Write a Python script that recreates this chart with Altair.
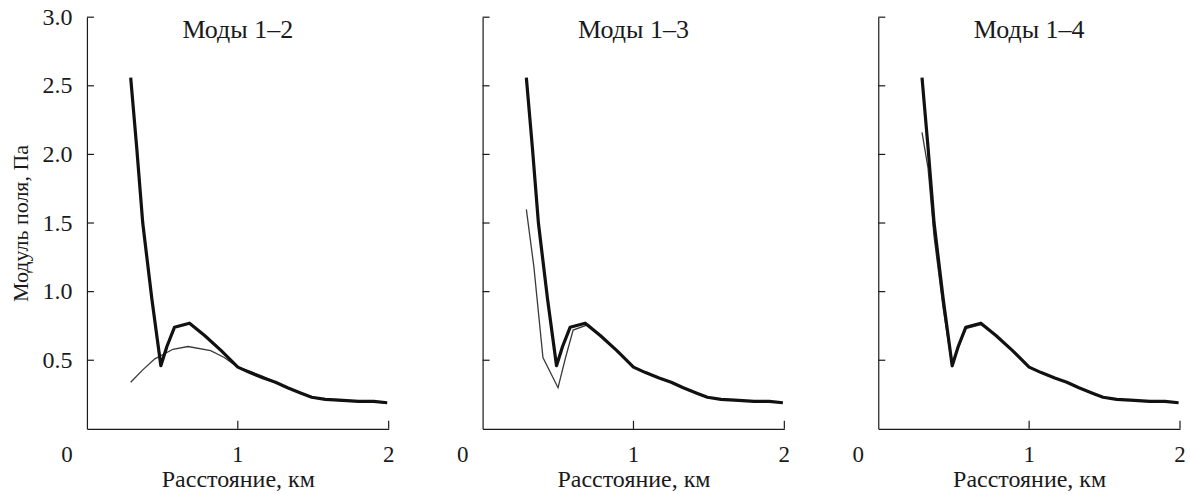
import altair as alt
import pandas as pd

# Exact field (thick curve), same in all three panels
exact_x = [0.29, 0.33, 0.37, 0.43, 0.49, 0.53, 0.58, 0.68, 0.78, 0.89, 1.0, 1.08, 1.17,
           1.25, 1.33, 1.42, 1.49, 1.58, 1.67, 1.8, 1.9, 1.99]
exact_y = [2.56, 2.05, 1.50, 0.95, 0.46, 0.60, 0.74, 0.77, 0.68, 0.57, 0.45, 0.41, 0.37,
           0.34, 0.30, 0.26, 0.23, 0.215, 0.21, 0.20, 0.20, 0.19]

# Mode sums (thin curves)
m12_x = [0.29, 0.37, 0.45, 0.57, 0.67, 0.82, 0.91, 1.0, 1.08, 1.17, 1.25, 1.33, 1.42,
         1.49, 1.58, 1.67, 1.8, 1.9, 1.99]
m12_y = [0.34, 0.43, 0.51, 0.58, 0.60, 0.57, 0.52, 0.45, 0.42, 0.38, 0.34, 0.30, 0.26,
         0.23, 0.215, 0.205, 0.20, 0.195, 0.19]

m13_x = [0.29, 0.34, 0.40, 0.50, 0.55, 0.60, 0.70, 0.78, 0.89, 1.0, 1.08, 1.17, 1.25,
         1.33, 1.42, 1.49, 1.58, 1.67, 1.8, 1.9, 1.99]
m13_y = [1.60, 1.18, 0.52, 0.30, 0.52, 0.72, 0.76, 0.68, 0.57, 0.45, 0.41, 0.37, 0.34,
         0.30, 0.26, 0.23, 0.215, 0.21, 0.20, 0.20, 0.19]

m14_x = [0.29, 0.33, 0.37, 0.43, 0.49, 0.53, 0.58, 0.68, 0.78, 0.89, 1.0, 1.08, 1.17,
         1.25, 1.33, 1.42, 1.49, 1.58, 1.67, 1.8, 1.9, 1.99]
m14_y = [2.16, 1.90, 1.40, 0.88, 0.45, 0.59, 0.73, 0.76, 0.68, 0.57, 0.45, 0.41, 0.37,
         0.34, 0.30, 0.26, 0.23, 0.215, 0.21, 0.20, 0.20, 0.19]

titles = ["Моды 1–2", "Моды 1–3", "Моды 1–4"]
y_ticks = [0.5, 1.0, 1.5, 2.0, 2.5, 3.0]
x_ticks = [1, 2]
x_origin_label = [0]

FONT = "Liberation Serif"
INK = "#1a1a1a"
W, H = 302, 412


def panel(mx, my, title, show_y):
    xscale = alt.Scale(domain=[0, 2], nice=False, zero=False)
    yscale = alt.Scale(domain=[0, 3], nice=False)

    xaxis = alt.Axis(
        values=x_ticks, ticks=False, tickSize=0, grid=False, labels=False,
        title="Расстояние, км", titleFont=FONT, titleFontSize=24,
        titleFontWeight="normal", titleColor=INK, titlePadding=39,
        domainColor=INK, domainWidth=1.2,
    )
    if show_y:
        yaxis = alt.Axis(
            values=y_ticks, format=".1f", ticks=False, tickSize=0, grid=False,
            labelPadding=15, labelFontSize=24, labelFont=FONT, labelColor=INK,
            labelOverlap=False, labelFlush=False,
            title="Модуль поля, Па", titleFont=FONT, titleFontSize=22,
            titleFontWeight="normal", titleColor=INK, titlePadding=9,
            domainColor=INK, domainWidth=1.2,
        )
    else:
        yaxis = alt.Axis(
            values=y_ticks, ticks=False, tickSize=0, grid=False, labels=False,
            title=None, domainColor=INK, domainWidth=1.2,
        )

    def X(f):
        return alt.X(f, scale=xscale, axis=xaxis)

    def Y(f):
        return alt.Y(f, scale=yscale, axis=yaxis)

    exact = pd.DataFrame({"x": exact_x, "y": exact_y})
    approx = pd.DataFrame({"x": mx, "y": my})

    thin = alt.Chart(approx).mark_line(color="#3a3a3a", strokeWidth=1.3).encode(
        x=X("x:Q"), y=Y("y:Q"),
    )
    thick = alt.Chart(exact).mark_line(color="#111111", strokeWidth=3.2,
                                       strokeJoin="round").encode(
        x=X("x:Q"), y=Y("y:Q"),
    )
    ytk = alt.Chart(pd.DataFrame({"y": y_ticks})).mark_rule(
        color=INK, strokeWidth=1.2).encode(
        y=Y("y:Q"), x=alt.value(0), x2=alt.value(7),
    )
    xtk = alt.Chart(pd.DataFrame({"x": x_ticks})).mark_rule(
        color=INK, strokeWidth=1.2).encode(
        x=X("x:Q"), y=alt.value(H), y2=alt.value(H - 8),
    )
    xlab = alt.Chart(pd.DataFrame({"x": x_ticks})).mark_text(
        font=FONT, fontSize=23, color=INK, baseline="middle").encode(
        x=X("x:Q"), y=alt.value(H + 26), text=alt.Text("x:Q", format="d"),
    )
    xlab0 = alt.Chart(pd.DataFrame({"x": x_origin_label})).mark_text(
        font=FONT, fontSize=23, color=INK, baseline="middle", dx=-20).encode(
        x=X("x:Q"), y=alt.value(H + 26), text=alt.Text("x:Q", format="d"),
    )
    ttl = alt.Chart(pd.DataFrame({"x": [1.0], "y": [2.91], "t": [title]})).mark_text(
        font=FONT, fontSize=26, color=INK).encode(
        x=X("x:Q"), y=Y("y:Q"), text="t:N",
    )
    return alt.layer(thin, thick, ytk, xtk, xlab, xlab0, ttl).properties(width=W, height=H)


p1 = panel(m12_x, m12_y, titles[0], True)
p2 = panel(m13_x, m13_y, titles[1], False)
p3 = panel(m14_x, m14_y, titles[2], False)

chart = alt.hconcat(p1, p2, p3, spacing=94, bounds="flush").properties(
    padding={"left": 10, "top": 5, "right": 4, "bottom": 1},
    background="white",
).configure_view(stroke=None)

chart.save("out.html", embed_options={"renderer": "svg", "actions": False})
